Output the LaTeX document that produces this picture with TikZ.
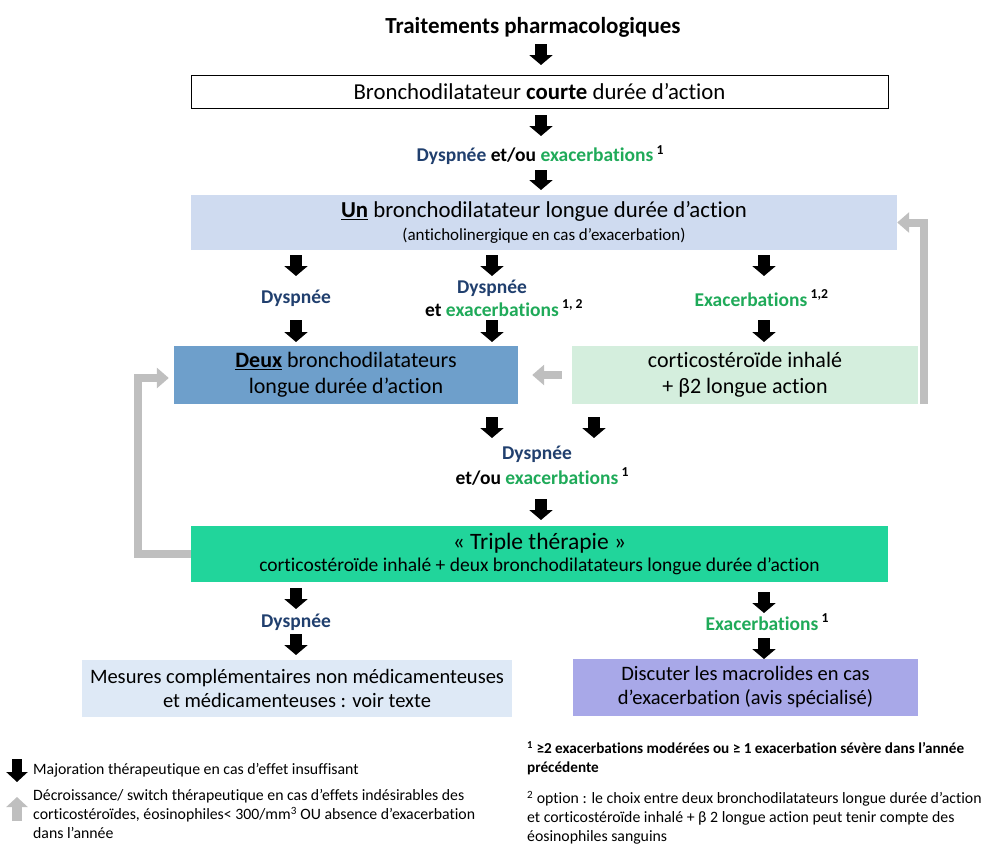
\documentclass[tikz,border=0pt]{standalone}
\usepackage{fontspec}
\setmainfont{Carlito}[Ligatures=NoCommon]
\usetikzlibrary{arrows.meta}
\definecolor{dyspbleu}{HTML}{203F6E}
\definecolor{exavert}{HTML}{1FAA59}
\definecolor{unfond}{HTML}{CFDBF0}
\definecolor{deuxfond}{HTML}{6E9FCB}
\definecolor{corticofond}{HTML}{D4EEDD}
\definecolor{triplefond}{HTML}{21D59B}
\definecolor{mesuresfond}{HTML}{DEE9F6}
\definecolor{macrofond}{HTML}{A8A8E8}
\definecolor{retourgris}{HTML}{BFBFBF}
\newcommand{\dys}[1]{\textcolor{dyspbleu}{#1}}
\newcommand{\exa}[1]{\textcolor{exavert}{#1}}
\newcommand{\renvoi}[1]{\rlap{\,\textsuperscript{#1}}}
\tikzset{
	titre/.style={font=\fontsize{23}{26}\selectfont\bfseries},
	boite/.style={inner sep=0pt, align=center, font=\fontsize{22}{26}\selectfont},
	etiquette/.style={inner sep=0pt, align=center, font=\fontsize{19.5}{23}\selectfont\bfseries},
	legende/.style={inner sep=0pt, align=left, font=\fontsize{15.8}{19}\selectfont},
	majo/.style={line width=12pt, -{Triangle[width=23pt,length=10pt]}},
	retour/.style={line width=8pt, draw=retourgris, fill=none, -{Triangle[width=20pt,length=12pt,fill=retourgris]}}
}
\begin{document}
\begin{tikzpicture}[x=1pt, y=-1pt]
	\useasboundingbox (0,0) rectangle (991,854);
	\node [titre] (titre) at (533,27) {Traitements pharmacologiques};
	\draw [majo] (541,44) -- (541,65);
	\node [boite, draw=black, line width=0.8pt, minimum width=697pt, minimum height=33pt, font=\fontsize{22.8}{26}\selectfont] (courte) at (539.5,91.5) {Bronchodilatateur \textbf{courte} durée d’action};
	\draw [majo] (541,115) -- (541,136);
	\node [etiquette] (symptome) at (535,155) {\dys{Dyspnée} et/ou \exa{exacerbations}\renvoi{1}};
	\draw [majo] (541,170) -- (541,190);

	\node [boite, fill=unfond, minimum width=706pt, minimum height=55pt, font=\fontsize{22.8}{26}\selectfont] (un) at (544,222.5) {\underline{\textbf{Un}} bronchodilatateur longue durée d’action\\[-3pt]{\fontsize{17}{20}\selectfont (anticholinergique en cas d’exacerbation)}};
	\draw [majo] (296,255) -- (296,276);
	\draw [majo] (492,255) -- (492,276);
	\draw [majo] (764,255) -- (764,276);
	\node [etiquette] (dysp) at (296,298) {\dys{Dyspnée}};
	\node [etiquette] (dyspexa) at (492,298) {\dys{Dyspnée}\\et \exa{exacerbations}\renvoi{1, 2}};
	\node [etiquette] (exa) at (751,298) {\exa{Exacerbations}\renvoi{1,2}};
	\draw [majo] (296,320) -- (296,342);
	\draw [majo] (492,320) -- (492,342);
	\draw [majo] (764,320) -- (764,342);

	\node [boite, fill=deuxfond, minimum width=344pt, minimum height=58pt] (deux) at (346,375) {\underline{\textbf{Deux}} bronchodilatateurs\\longue durée d’action};
	\node [boite, fill=corticofond, minimum width=346pt, minimum height=58pt] (cortico) at (745,375) {corticostéroïde inhalé\\+ β2 longue action};
	\draw [retour, shorten <=10pt, shorten >=14pt] (cortico.west) -- (deux.east);
	\draw [retour] ([xshift=6pt]cortico.south east) |- (un.east);

	\draw [majo] (492,417) -- (492,438);
	\draw [majo] (594,417) -- (594,438);
	\node [etiquette, font=\fontsize{19.5}{25}\selectfont\bfseries] (symptome2) at (537,465.5) {\dys{Dyspnée}\\et/ou \exa{exacerbations}\renvoi{1}};
	\draw [majo] (541,499) -- (541,520);

	\node [boite, fill=triplefond, minimum width=697pt, minimum height=56pt, font=\fontsize{23.5}{26}\selectfont] (triple) at (539.5,554) {« Triple thérapie »\\[-4pt]{\fontsize{19.5}{22}\selectfont corticostéroïde inhalé + deux bronchodilatateurs longue durée d’action}};
	\draw [retour, shorten >=5pt] (triple.west) -- ++(-53,0) |- ([yshift=-3pt]deux.west);

	\draw [majo] (296,588) -- (296,609);
	\draw [majo] (764,592) -- (764,613);
	\node [etiquette] (dysp2) at (296,622) {\dys{Dyspnée}};
	\node [etiquette] (exa2) at (762,622) {\exa{Exacerbations}\renvoi{1}};
	\draw [majo] (296,634) -- (296,655);
	\draw [majo] (764,638) -- (764,659);

	\node [boite, fill=mesuresfond, minimum width=430pt, minimum height=57pt, font=\fontsize{20.5}{24}\selectfont] (mesures) at (297,688.5) {Mesures complémentaires non médicamenteuses\\et médicamenteuses : voir texte};
	\node [boite, fill=macrofond, minimum width=345pt, minimum height=57pt, font=\fontsize{20.5}{24}\selectfont] (macro) at (745.5,687.5) {Discuter les macrolides en cas\\d’exacerbation (avis spécialisé)};

	\draw [majo, line width=10pt, -{Triangle[width=21pt,length=10pt]}] (17,759) -- (17,782);
	\node [legende, anchor=west] (leg1) at (33,770) {Majoration thérapeutique en cas d’effet insuffisant};
	\draw [retour, line width=10pt, -{Triangle[width=21pt,length=10pt,fill=retourgris]}] (17,821) -- (17,797);
	\node [legende, anchor=north west] (leg2) at (33,789) {Décroissance/ switch thérapeutique en cas d’effets indésirables des\\corticostéroïdes, éosinophiles< 300/mm\textsuperscript{3} OU absence d’exacerbation\\dans l’année};
	\node [legende, anchor=north west, font=\fontsize{15.2}{19}\selectfont\bfseries] (note1) at (527,741) {\textsuperscript{1} ≥2 exacerbations modérées ou ≥ 1 exacerbation sévère dans l’année\\précédente};
	\node [legende, anchor=north west] (note2) at (527,791) {\textsuperscript{2} option : le choix entre  deux bronchodilatateurs longue durée d’action\\et corticostéroïde  inhalé + β 2 longue action peut tenir compte des\\éosinophiles sanguins};
\end{tikzpicture}
\end{document}
